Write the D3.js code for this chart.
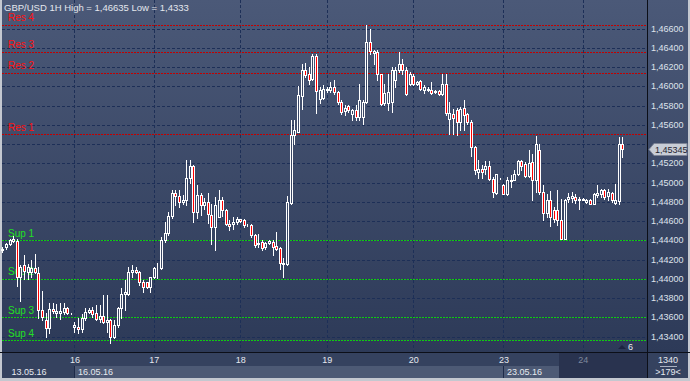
<!DOCTYPE html>
<html><head><meta charset="utf-8">
<script src="https://cdn.jsdelivr.net/npm/d3@7"></script>
<style>html,body{margin:0;padding:0;background:#c4c8d0;overflow:hidden}svg{display:block;font-family:"Liberation Sans",Arial,sans-serif}</style>
</head><body><svg id="c" width="690" height="381"></svg>
<script>
const title = "GBP/USD 1H High = 1,46635 Low = 1,4333";
const opens = [1.4430,1.44326,1.44361,1.44393,1.44396,1.44022,1.44143,1.44070,1.44074,1.44108,1.44063,1.43675,1.43571,1.43485,1.43682,1.43641,1.43647,1.43654,1.43693,1.43641,
1.43502,1.43502,1.43478,1.43589,1.43658,1.43675,1.43641,1.43582,1.43610,1.43554,1.43571,1.43398,1.43519,1.43693,1.43842,1.43842,1.44074,1.44091,1.44074,1.43970,1.43963,1.43918,
1.44015,1.44108,1.44115,1.44403,1.44472,1.44652,1.44887,1.44860,1.44801,1.44818,1.45043,1.45171,1.44697,1.44870,1.44766,1.44797,1.44659,1.44538,1.44642,1.44822,1.44711,1.44572,1.44565,1.44590,
1.44621,1.44614,1.44555,1.44555,1.44451,1.44364,1.44382,1.44330,1.44371,1.44382,1.44340,1.44319,1.44157,1.44157,1.44787,1.45491,1.45526,1.45896,1.46167,1.46125,1.46080,1.46312,1.45872,1.45883,
1.45959,1.45959,1.45993,1.45941,1.45837,1.45744,1.45792,1.45709,1.45758,1.45682,1.45682,1.45837,1.46461,1.46347,1.46357,1.46125,1.45827,1.45827,1.45841,1.46063,1.46167,1.46236,1.46167,1.46021,
1.46104,1.46028,1.46056,1.45959,1.45966,1.45966,1.45941,1.45952,1.45917,1.46028,1.45664,1.45709,1.45758,1.45630,1.45779,1.45716,1.45630,1.45370,1.45110,1.45137,1.45137,1.45172,1.45040,1.44891,1.45040,
1.44971,1.44884,1.45016,1.45030,1.45085,1.45224,1.45189,1.45065,1.45214,1.45023,1.45342,1.44902,1.44683,1.44815,1.44718,1.44718,1.44607,1.44417,1.44832,1.44843,1.44850,1.44815,
1.44822,1.44798,1.44822,1.44780,1.44867,1.44884,1.44926,1.44857,1.44891,1.44787,1.44808,1.45404];
const highs = [1.4433,1.44375,1.44417,1.44444,1.44410,1.44143,1.44247,1.44150,1.44195,1.44254,1.44126,1.43876,1.43641,1.43745,1.43752,1.43738,1.43752,1.43752,1.43703,1.43645,
1.43554,1.43589,1.43630,1.43693,1.43693,1.43710,1.43727,1.43727,1.43831,1.43831,1.43582,1.43571,1.43710,1.43900,1.43987,1.44126,1.44143,1.44126,1.44080,1.43987,1.43970,1.44022,
1.44126,1.44160,1.44437,1.44593,1.44697,1.44922,1.44922,1.44922,1.44870,1.45234,1.45234,1.45182,1.44974,1.44887,1.44836,1.44887,1.44780,1.44850,1.44919,1.44850,1.44728,1.44607,1.44642,1.44642,
1.44624,1.44621,1.44565,1.44565,1.44468,1.44468,1.44399,1.44382,1.44406,1.44406,1.44486,1.44330,1.44219,1.44857,1.45647,1.45647,1.46000,1.46236,1.46243,1.46201,1.46340,1.46340,1.45993,1.46011,
1.45993,1.46045,1.46063,1.45952,1.45855,1.45803,1.45803,1.45768,1.45803,1.46028,1.45855,1.46635,1.46600,1.46375,1.46375,1.46132,1.46028,1.46132,1.46201,1.46201,1.46357,1.46288,1.46201,1.46149,
1.46132,1.46056,1.46063,1.46011,1.45993,1.46045,1.45966,1.45959,1.46132,1.46132,1.45838,1.45768,1.45779,1.45786,1.45855,1.45723,1.45647,1.45377,1.45231,1.45179,1.45224,1.45224,1.45058,1.45092,1.45045,
1.44988,1.45058,1.45075,1.45127,1.45238,1.45231,1.45214,1.45335,1.45300,1.45480,1.45397,1.44971,1.44884,1.44912,1.44746,1.44919,1.44832,1.44832,1.44891,1.44902,1.44884,1.44850,
1.44843,1.44832,1.44832,1.44891,1.44971,1.44936,1.44936,1.44936,1.44902,1.44988,1.45474,1.45474];
const lows = [1.4428,1.44306,1.44348,1.44386,1.43928,1.43772,1.43994,1.44000,1.44022,1.44056,1.43589,1.43571,1.43398,1.43433,1.43641,1.43606,1.43578,1.43634,1.43634,1.43638,
1.43450,1.43433,1.43450,1.43571,1.43641,1.43606,1.43571,1.43554,1.43537,1.43450,1.43330,1.43381,1.43502,1.43589,1.43675,1.43831,1.44022,1.44056,1.43935,1.43866,1.43900,1.43866,
1.44004,1.44004,1.44098,1.44385,1.44455,1.44628,1.44766,1.44749,1.44780,1.44766,1.44991,1.44593,1.44628,1.44662,1.44728,1.44576,1.44364,1.44295,1.44642,1.44649,1.44555,1.44503,1.44520,1.44572,
1.44590,1.44538,1.44545,1.44434,1.44330,1.44330,1.44295,1.44312,1.44364,1.44243,1.44295,1.44105,1.44018,1.44139,1.44780,1.45404,1.45526,1.45768,1.46097,1.46028,1.46070,1.45723,1.45827,1.45872,
1.45941,1.45941,1.45924,1.45820,1.45716,1.45699,1.45733,1.45647,1.45647,1.45647,1.45612,1.45827,1.46340,1.46236,1.46063,1.45803,1.45803,1.45751,1.45733,1.45993,1.46149,1.46132,1.45907,1.46011,
1.46011,1.46011,1.45959,1.45931,1.45952,1.45924,1.45931,1.45910,1.45907,1.45699,1.45508,1.45508,1.45491,1.45543,1.45543,1.45612,1.45273,1.45092,1.45051,1.45051,1.45092,1.45023,1.44850,1.44884,1.45035,
1.44877,1.44867,1.44954,1.45023,1.45075,1.45127,1.45058,1.45058,1.44815,1.44902,1.44884,1.44607,1.44642,1.44545,1.44590,1.44555,1.44410,1.44410,1.44798,1.44798,1.44787,1.44728,
1.44815,1.44787,1.44773,1.44773,1.44850,1.44850,1.44832,1.44815,1.44798,1.44773,1.44780,1.45266];
const closes = [1.4431,1.44361,1.44403,1.44410,1.44022,1.44126,1.44084,1.44120,1.44108,1.44067,1.43675,1.43606,1.43485,1.43682,1.43661,1.43668,1.43668,1.43693,1.43641,1.43641,
1.43519,1.43478,1.43589,1.43658,1.43675,1.43634,1.43582,1.43610,1.43554,1.43571,1.43398,1.43519,1.43693,1.43842,1.43866,1.44074,1.44091,1.44074,1.43963,1.43918,1.43918,1.44015,
1.44108,1.44115,1.44403,1.44472,1.44652,1.44887,1.44860,1.44801,1.44818,1.45043,1.45171,1.44697,1.44870,1.44766,1.44797,1.44676,1.44538,1.44763,1.44815,1.44711,1.44565,1.44545,1.44590,1.44624,
1.44600,1.44555,1.44555,1.44451,1.44347,1.44371,1.44323,1.44371,1.44392,1.44330,1.44309,1.44167,1.44167,1.44798,1.45491,1.45543,1.45907,1.46167,1.46115,1.46070,1.46312,1.45952,1.45959,1.45976,
1.45976,1.45993,1.45941,1.45837,1.45733,1.45779,1.45751,1.45751,1.45682,1.45855,1.45837,1.46461,1.46368,1.46368,1.46125,1.45820,1.45931,1.45941,1.46167,1.46167,1.46236,1.46167,1.45917,1.46125,
1.46028,1.46045,1.45976,1.45993,1.45976,1.45931,1.45952,1.45917,1.46028,1.45723,1.45723,1.45675,1.45630,1.45768,1.45699,1.45630,1.45370,1.45127,1.45137,1.45110,1.45172,1.45040,1.44902,1.45085,1.45040,
1.44884,1.45023,1.45030,1.45085,1.45224,1.45169,1.45065,1.45203,1.45023,1.45397,1.44902,1.44683,1.44815,1.44642,1.44624,1.44607,1.44417,1.44822,1.44850,1.44857,1.44815,1.44832,
1.44832,1.44822,1.44780,1.44877,1.44891,1.44926,1.44850,1.44902,1.44815,1.44822,1.45404,1.45345];
const barCount = 179;
const dayLabels = ["16","17","18","19","20","23","24"];
const dayStarts = [20,42,66,90,114,139,161];
const dateLabels = ["13.05.16","16.05.16","23.05.16"];
const levelNames = ["Res 4","Res 3","Res 2","Res 1","Sup 1","Sup 2","Sup 3","Sup 4"];
const levelValues = [1.4664,1.4636,1.4614,1.4550,1.4440,1.4400,1.4360,1.4336];
const yTicks = [1.434,1.436,1.438,1.440,1.442,1.444,1.446,1.448,1.450,1.452,1.454,1.456,1.458,1.460,1.462,1.464,1.466];
const lastPrice = 1.45345;
const shiftText = "6", scaleText = "1340", barsText = ">179<";

const svg = d3.select("#c");
const W = 690, H = 381, plotR = 647, plotB = 352;
const x = d3.scaleBand().domain(d3.range(barCount)).range([0.5, 0.5 + barCount * 3.605]);
const y = d3.scaleLinear().domain([1.434, 1.466]).range([336.5, 28.5]);
const cx = i => x(i) + x.bandwidth() / 2;
const fmt = v => d3.format(".5f")(v).replace(".", ",");
const py = v => Math.round(y(v)) + 0.5;

const defs = svg.append("defs");
const g1 = defs.append("linearGradient").attr("id", "bg").attr("x1", 0).attr("y1", 0).attr("x2", 0).attr("y2", 1);
g1.append("stop").attr("offset", "0%").attr("stop-color", "#4b5978");
g1.append("stop").attr("offset", "100%").attr("stop-color", "#2d3a58");

// frame and backgrounds
svg.append("rect").attr("x", 0).attr("y", 0).attr("width", W).attr("height", H).attr("fill", "#c4c8d0");
svg.append("rect").attr("x", 2).attr("y", 0).attr("width", W - 4).attr("height", plotB).attr("fill", "url(#bg)");
svg.append("rect").attr("x", 2).attr("y", plotB).attr("width", W - 4).attr("height", 26).attr("fill", "#35425f");
svg.append("rect").attr("x", Math.round(cx(dayStarts[0]))).attr("y", 366).attr("width", 559 - Math.round(cx(dayStarts[0]))).attr("height", 12).attr("fill", "#4d5a75");
svg.append("rect").attr("x", 559).attr("y", 353).attr("width", plotR - 559).attr("height", 25).attr("fill", "#29334f");

// grid
const grid = svg.append("g").attr("stroke", "#1d2f57").attr("stroke-width", 1).attr("stroke-dasharray", "3,2");
yTicks.forEach(t => grid.append("line").attr("x1", 2).attr("x2", plotR).attr("y1", py(t)).attr("y2", py(t)));
dayStarts.forEach(d => grid.append("line").attr("x1", Math.round(cx(d)) + 0.5).attr("x2", Math.round(cx(d)) + 0.5).attr("y1", 0).attr("y2", plotB));

// levels
levelNames.forEach((n, k) => {
  const res = n.startsWith("Res");
  const col = res ? "#c40000" : "#10cc10";
  svg.append("line").attr("x1", 2).attr("x2", plotR).attr("y1", py(levelValues[k])).attr("y2", py(levelValues[k]))
    .attr("stroke", col).attr("stroke-width", 1).attr("stroke-dasharray", "2,1");
  svg.append("text").attr("x", 8).attr("y", y(levelValues[k]) - 3.5).attr("fill", res ? "#ff1010" : "#22e022")
    .attr("font-size", 10).text(n);
});

// candles
const cg = svg.append("g");
opens.forEach((o, i) => {
  const L = Math.round(cx(i)) - 1;
  const h = highs[i], l = lows[i], c = closes[i];
  cg.append("line").attr("x1", L + 1.5).attr("x2", L + 1.5).attr("y1", Math.round(y(h))).attr("y2", Math.round(y(l)) + 1)
    .attr("stroke", "#ffffff").attr("stroke-width", 1);
  const top = Math.round(y(Math.max(o, c))), bot = Math.round(y(Math.min(o, c)));
  cg.append("rect").attr("x", L + 0.5).attr("y", top + 0.5).attr("width", 2).attr("height", Math.max(0, bot - top))
    .attr("fill", c < o ? "#ff0000" : "#3a4766").attr("stroke", "#ffffff").attr("stroke-width", 1);
});

// borders
svg.append("line").attr("x1", 0).attr("x2", W).attr("y1", plotB + 0.5).attr("y2", plotB + 0.5).attr("stroke", "#0c0f18");
svg.append("line").attr("x1", plotR + 0.5).attr("x2", plotR + 0.5).attr("y1", 0).attr("y2", 378).attr("stroke", "#0c0f18");
svg.append("line").attr("x1", Math.round(cx(dayStarts[0])) + 0.5).attr("x2", Math.round(cx(dayStarts[0])) + 0.5).attr("y1", 366).attr("y2", 378).attr("stroke", "#1d2a48");
svg.append("line").attr("x1", Math.round(cx(dayStarts[5])) + 0.5).attr("x2", Math.round(cx(dayStarts[5])) + 0.5).attr("y1", 366).attr("y2", 378).attr("stroke", "#1d2a48");

// title
svg.append("text").attr("x", 4).attr("y", 10.5).attr("fill", "#e4e7ee").attr("font-size", 9.5).text(title);

// y axis labels (the one hidden under the price marker is skipped)
const ly = py(lastPrice);
const ya = svg.append("g").attr("fill", "#dfe3ec").attr("font-size", 9);
yTicks.filter(t => Math.abs(y(t) - ly) > 9).forEach(t => ya.append("text").attr("x", 651).attr("y", y(t)).attr("dy", "0.35em").text(fmt(t)));

// price label
svg.append("path").attr("d", `M649,${ly} L654,${ly - 6} L687,${ly - 6} L687,${ly + 6} L654,${ly + 6} Z`)
  .attr("fill", "#c8cdd6").attr("stroke", "#7d8496");
svg.append("text").attr("x", 655).attr("y", ly).attr("dy", "0.35em").attr("font-size", 9).attr("fill", "#1f2430").text(fmt(lastPrice));

// x axis labels
const xa = svg.append("g").attr("font-size", 9).attr("text-anchor", "middle");
dayLabels.forEach((d, k) => xa.append("text").attr("x", cx(dayStarts[k]) + 0.5).attr("y", 360).attr("dy", "0.35em")
  .attr("fill", k === dayLabels.length - 1 ? "#7f889d" : "#e6e9ef").text(d));
svg.append("text").attr("x", 29).attr("y", 372).attr("dy", "0.35em").attr("font-size", 9).attr("text-anchor", "middle").attr("fill", "#e6e9ef").text(dateLabels[0]);
svg.append("text").attr("x", Math.round(cx(dayStarts[0])) + 4).attr("y", 372).attr("dy", "0.35em").attr("font-size", 9).attr("fill", "#e6e9ef").text(dateLabels[1]);
svg.append("text").attr("x", Math.round(cx(dayStarts[5])) + 4).attr("y", 372).attr("dy", "0.35em").attr("font-size", 9).attr("fill", "#e6e9ef").text(dateLabels[2]);

// shift marker
svg.append("path").attr("d", "M618,349 L622,345 L626,349 Z").attr("fill", "#1c2540");
svg.append("text").attr("x", 628).attr("y", 347).attr("dy", "0.35em").attr("font-size", 9).attr("fill", "#e6e9ef").text(shiftText);

// bottom-right box
svg.append("text").attr("x", 668).attr("y", 360).attr("dy", "0.35em").attr("font-size", 9).attr("text-anchor", "middle").attr("fill", "#e6e9ef").text(scaleText);
svg.append("line").attr("x1", 660).attr("x2", 677).attr("y1", 366.5).attr("y2", 366.5).attr("stroke", "#aab1c0");
svg.append("text").attr("x", 668).attr("y", 372).attr("dy", "0.35em").attr("font-size", 9).attr("text-anchor", "middle").attr("fill", "#e6e9ef").text(barsText);
</script></body></html>
